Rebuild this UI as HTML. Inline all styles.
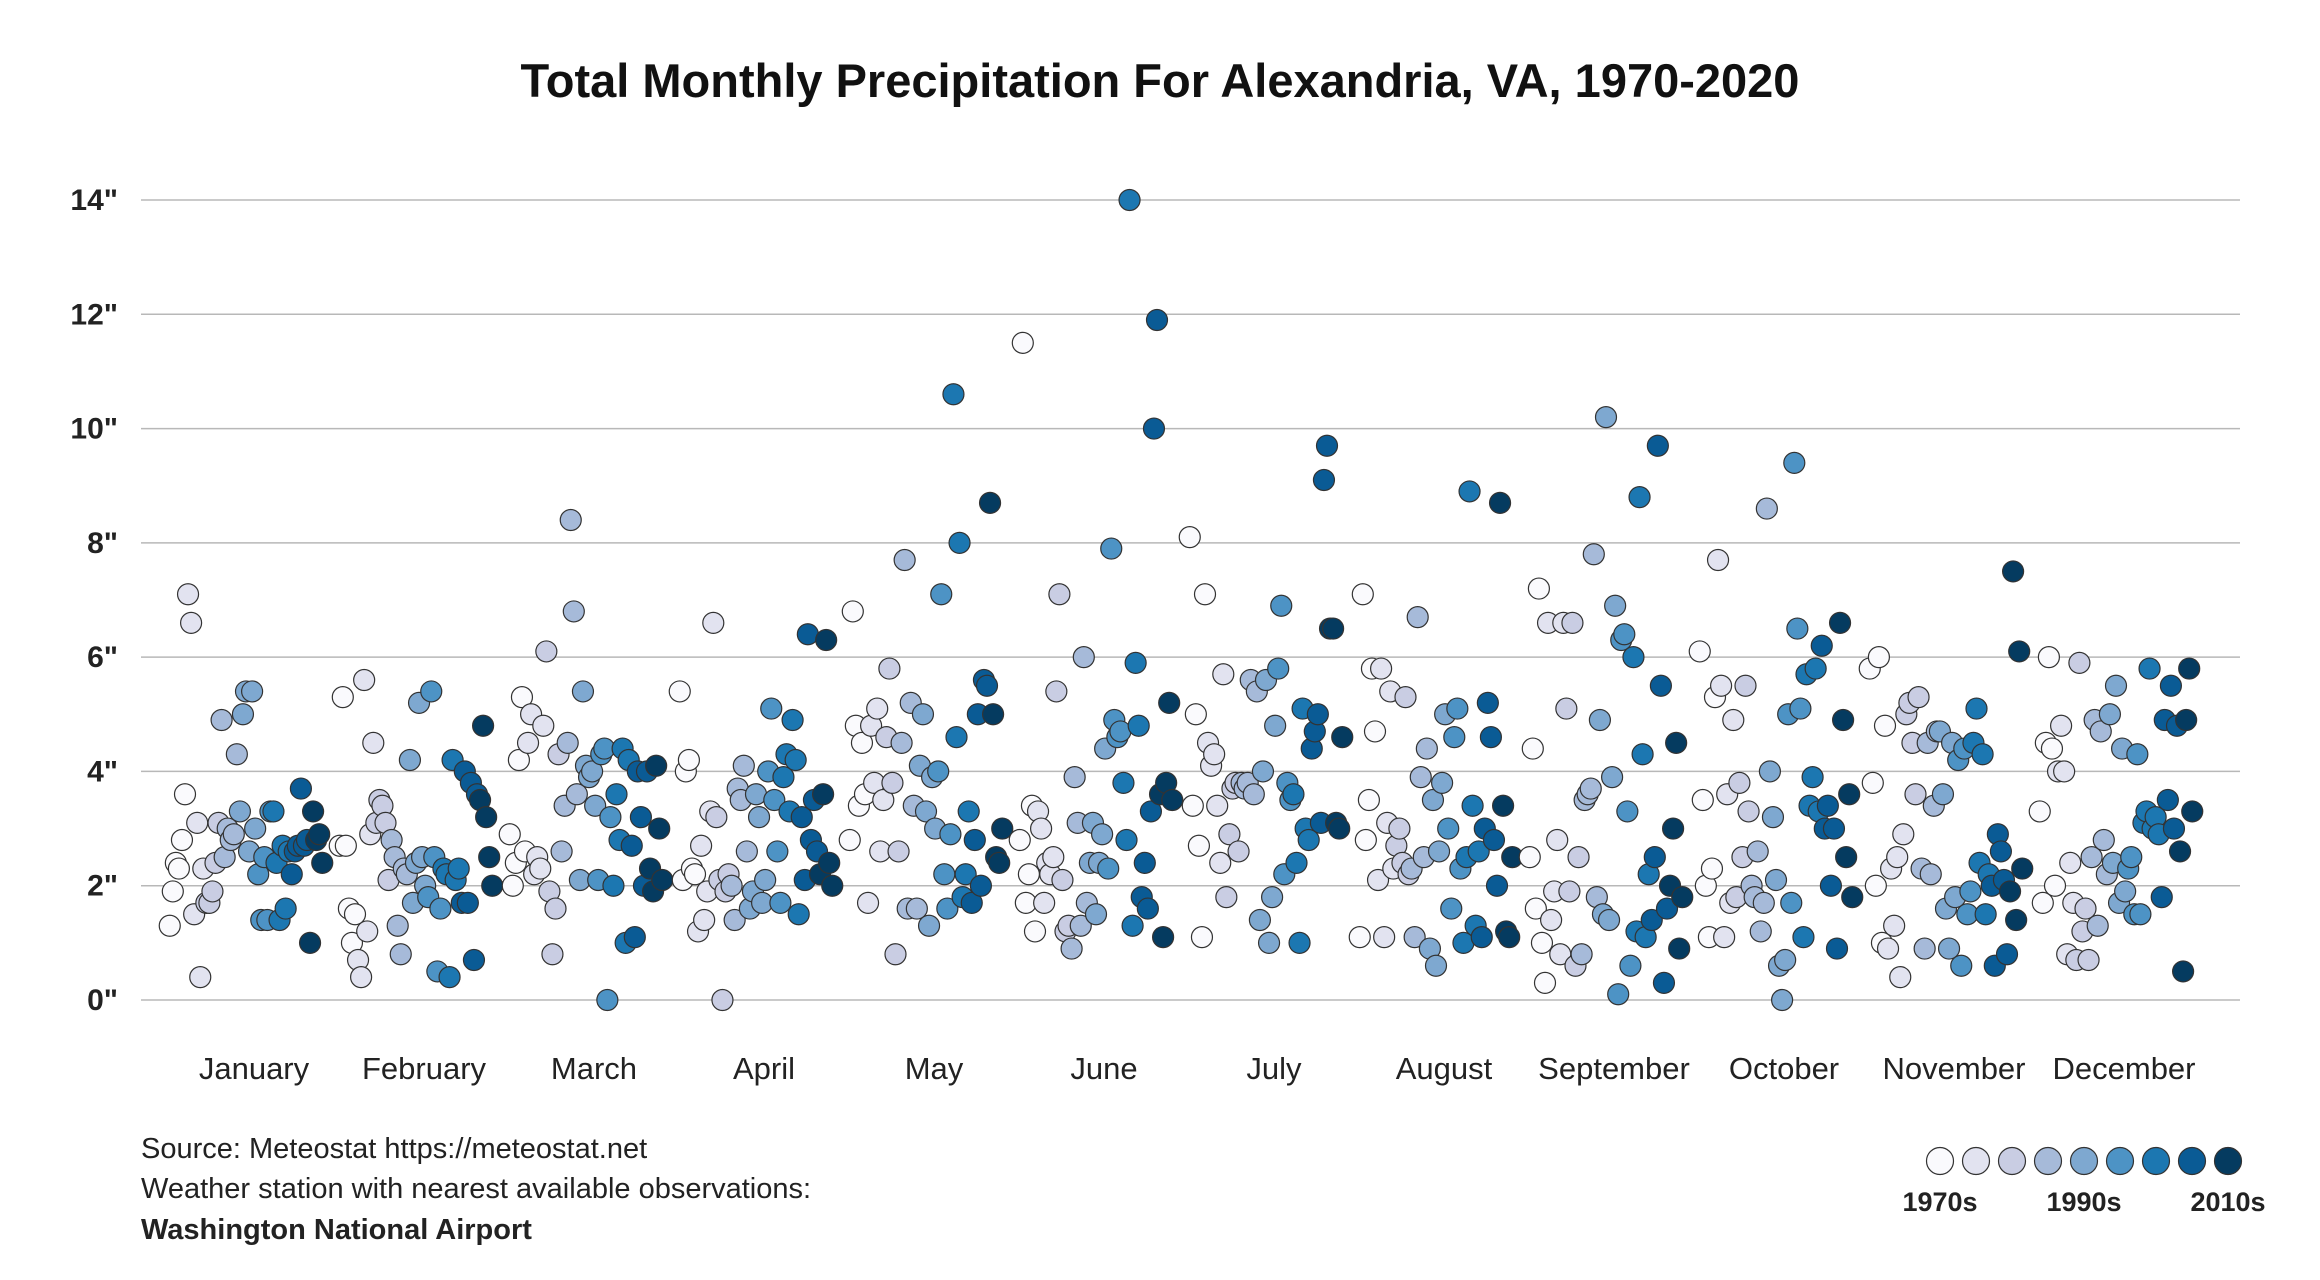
<!DOCTYPE html>
<html><head><meta charset="utf-8"><style>
html,body{margin:0;padding:0;background:#fff;}
svg{display:block;font-family:"Liberation Sans",sans-serif;}
</style></head><body>
<svg id="chart" width="2320" height="1280" viewBox="0 0 2320 1280">
<text x="1160" y="97" text-anchor="middle" font-size="47" font-weight="bold" fill="#111">Total Monthly Precipitation For Alexandria, VA, 1970-2020</text>
<g id="grid"></g>
<g id="yticks"></g>
<g id="xlabels"></g>
<g id="dots"></g>
<g font-size="29" fill="#222">
<text x="141" y="1158">Source: Meteostat https://meteostat.net</text>
<text x="141" y="1198">Weather station with nearest available observations:</text>
<text x="141" y="1239" font-weight="bold">Washington National Airport</text>
</g>
<g id="legend"></g>
</svg>
<script>
const months=["January","February","March","April","May","June","July","August","September","October","November","December"];
const yTicks=[0,2,4,6,8,10,12,14];
const startYear=1970;
const jan=[1.3,1.9,2.4,2.3,2.8,3.6,7.1,6.6,1.5,3.1,0.4,2.3,1.7,1.7,1.9,2.4,3.1,4.9,2.5,3.0,2.8,2.9,4.3,3.3,5.0,5.4,2.6,5.4,3.0,2.2,1.4,2.5,1.4,3.3,3.3,2.4,1.4,2.7,1.6,2.6,2.2,2.6,2.7,3.7,2.7,2.8,1.0,3.3,2.8,2.9,2.4];
const feb=[2.7,5.3,2.7,1.6,1.0,1.5,0.7,0.4,5.6,1.2,2.9,4.5,3.1,3.5,3.4,3.1,2.1,2.8,2.5,1.3,0.8,2.3,2.2,4.2,1.7,2.4,5.2,2.5,2.0,1.8,5.4,2.5,0.5,1.6,2.3,2.2,0.4,4.2,2.1,2.3,1.7,4.0,1.7,3.8,0.7,3.6,3.5,4.8,3.2,2.5,2.0];
const mar=[2.9,2.0,2.4,4.2,5.3,2.6,4.5,5.0,2.2,2.5,2.3,4.8,6.1,1.9,0.8,1.6,4.3,2.6,3.4,4.5,8.4,6.8,3.6,2.1,5.4,4.1,3.9,4.0,3.4,2.1,4.3,4.4,0.0,3.2,2.0,3.6,2.8,4.4,1.0,4.2,2.7,1.1,4.0,3.2,2.0,4.0,2.3,1.9,4.1,3.0,2.1];
const apr=[5.4,2.1,4.0,4.2,2.3,2.2,1.2,2.7,1.4,1.9,3.3,6.6,3.2,2.1,0.0,1.9,2.2,2.0,1.4,3.7,3.5,4.1,2.6,1.6,1.9,3.6,3.2,1.7,2.1,4.0,5.1,3.5,2.6,1.7,3.9,4.3,3.3,4.9,4.2,1.5,3.2,2.1,6.4,2.8,3.5,2.6,2.2,3.6,6.3,2.4,2.0];
const may=[2.8,6.8,4.8,3.4,4.5,3.6,1.7,4.8,3.8,5.1,2.6,3.5,4.6,5.8,3.8,0.8,2.6,4.5,7.7,1.6,5.2,3.4,1.6,4.1,5.0,3.3,1.3,3.9,3.0,4.0,7.1,2.2,1.6,2.9,10.6,4.6,8.0,1.8,2.2,3.3,1.7,2.8,5.0,2.0,5.6,5.5,8.7,5.0,2.5,2.4,3.0];
const jun=[2.8,11.5,1.7,2.2,3.4,1.2,3.3,3.0,1.7,2.4,2.2,2.5,5.4,7.1,2.1,1.2,1.3,0.9,3.9,3.1,1.3,6.0,1.7,2.4,3.1,1.5,2.4,2.9,4.4,2.3,7.9,4.9,4.6,4.7,3.8,2.8,14.0,1.3,5.9,4.8,1.8,2.4,1.6,3.3,10.0,11.9,3.6,1.1,3.8,5.2,3.5];
const jul=[8.1,3.4,5.0,2.7,1.1,7.1,4.5,4.1,4.3,3.4,2.4,5.7,1.8,2.9,3.7,3.8,2.6,3.8,3.7,3.8,5.6,3.6,5.4,1.4,4.0,5.6,1.0,1.8,4.8,5.8,6.9,2.2,3.8,3.5,3.6,2.4,1.0,5.1,3.0,2.8,4.4,4.7,5.0,3.1,9.1,9.7,6.5,6.5,3.1,3.0,4.6];
const aug=[1.1,7.1,2.8,3.5,5.8,4.7,2.1,5.8,1.1,3.1,5.4,2.3,2.7,3.0,2.4,5.3,2.2,2.3,1.1,6.7,3.9,2.5,4.4,0.9,3.5,0.6,2.6,3.8,5.0,3.0,1.6,4.6,5.1,2.3,1.0,2.5,8.9,3.4,1.3,2.6,1.1,3.0,5.2,4.6,2.8,2.0,8.7,3.4,1.2,1.1,2.5];
const sep=[2.5,4.4,1.6,7.2,1.0,0.3,6.6,1.4,1.9,2.8,0.8,6.6,5.1,1.9,6.6,0.6,2.5,0.8,3.5,3.6,3.7,7.8,1.8,4.9,1.5,10.2,1.4,3.9,6.9,0.1,6.3,6.4,3.3,0.6,6.0,1.2,8.8,4.3,1.1,2.2,1.4,2.5,9.7,5.5,0.3,1.6,2.0,3.0,4.5,0.9,1.8];
const oct=[6.1,3.5,2.0,1.1,2.3,5.3,7.7,5.5,1.1,3.6,1.7,4.9,1.8,3.8,2.5,5.5,3.3,2.0,1.8,2.6,1.2,1.7,8.6,4.0,3.2,2.1,0.6,0.0,0.7,5.0,1.7,9.4,6.5,5.1,1.1,5.7,3.4,3.9,5.8,3.3,6.2,3.0,3.4,2.0,3.0,0.9,6.6,4.9,2.5,3.6,1.8];
const nov=[5.8,3.8,2.0,6.0,1.0,4.8,0.9,2.3,1.3,2.5,0.4,2.9,5.0,5.2,4.5,3.6,5.3,2.3,0.9,4.5,2.2,3.4,4.7,4.7,3.6,1.6,0.9,4.5,1.8,4.2,0.6,4.4,1.5,1.9,4.5,5.1,2.4,4.3,1.5,2.2,2.0,0.6,2.9,2.6,2.1,0.8,1.9,7.5,1.4,6.1,2.3];
const dec=[3.3,1.7,4.5,6.0,4.4,2.0,4.0,4.8,4.0,0.8,2.4,1.7,0.7,5.9,1.2,1.6,0.7,2.5,4.9,1.3,4.7,2.8,2.2,5.0,2.4,5.5,1.7,4.4,1.9,2.3,2.5,1.5,4.3,1.5,3.1,3.3,5.8,3.0,3.2,2.9,1.8,4.9,3.5,5.5,3.0,4.8,2.6,0.5,4.9,5.8,3.3];
const series=[jan,feb,mar,apr,may,jun,jul,aug,sep,oct,nov,dec];
const legendLabels=["1970s","","","","1990s","","","","2010s"];

const NS="http://www.w3.org/2000/svg";
const palette=["#fafafd","#e2e3f0","#c9cde3","#a6bad9","#7ea8d0","#4d93c5","#1c77b1","#0a5b95","#053b60"];
const y=v=>1000-v*(800/14);
const monthX=m=>254+m*170;
const yearX=(m,i)=>monthX(m)-8+(i-25)*3.05;
const colorFor=i=>palette[Math.min(8,Math.floor(i/51*9))];
function mk(tag,attrs,parent){const e=document.createElementNS(NS,tag);for(const k in attrs)e.setAttribute(k,attrs[k]);parent.appendChild(e);return e;}
const grid=document.getElementById('grid'),yt=document.getElementById('yticks'),xl=document.getElementById('xlabels'),dots=document.getElementById('dots'),lg=document.getElementById('legend');
yTicks.forEach(t=>{
  const l=mk('line',{x1:141,x2:2240,y1:y(t),y2:y(t),stroke:'#b8b8b8','stroke-width':1.5},grid);
  
  
  const tx=mk('text',{x:118,y:y(t)+10,'text-anchor':'end','font-size':30,'font-weight':'bold',fill:'#222'},yt);
  tx.textContent=t+'"';
  
  
});
months.forEach((m,i)=>{
  const tx=mk('text',{x:monthX(i),y:1079,'text-anchor':'middle','font-size':31,fill:'#222'},xl);
  tx.textContent=m;
  
  
});
series.forEach((vals,m)=>{
  vals.forEach((v,i)=>{
    const c=mk('circle',{cx:yearX(m,i),cy:y(v),r:10.5,fill:colorFor(i),stroke:'#333','stroke-width':1.2},dots);
    
    
  });
});
palette.forEach((p,i)=>{
  const cx=1940+i*36;
  const c=mk('circle',{cx:cx,cy:1161,r:13.5,fill:p,stroke:'#333','stroke-width':1.2},lg);
  
  
  if(legendLabels[i]){
    const t=mk('text',{x:cx,y:1211,'text-anchor':'middle','font-size':27,'font-weight':'bold',fill:'#222'},lg);
    t.textContent=legendLabels[i];
    
    
  }
});
</script>
</body></html>
